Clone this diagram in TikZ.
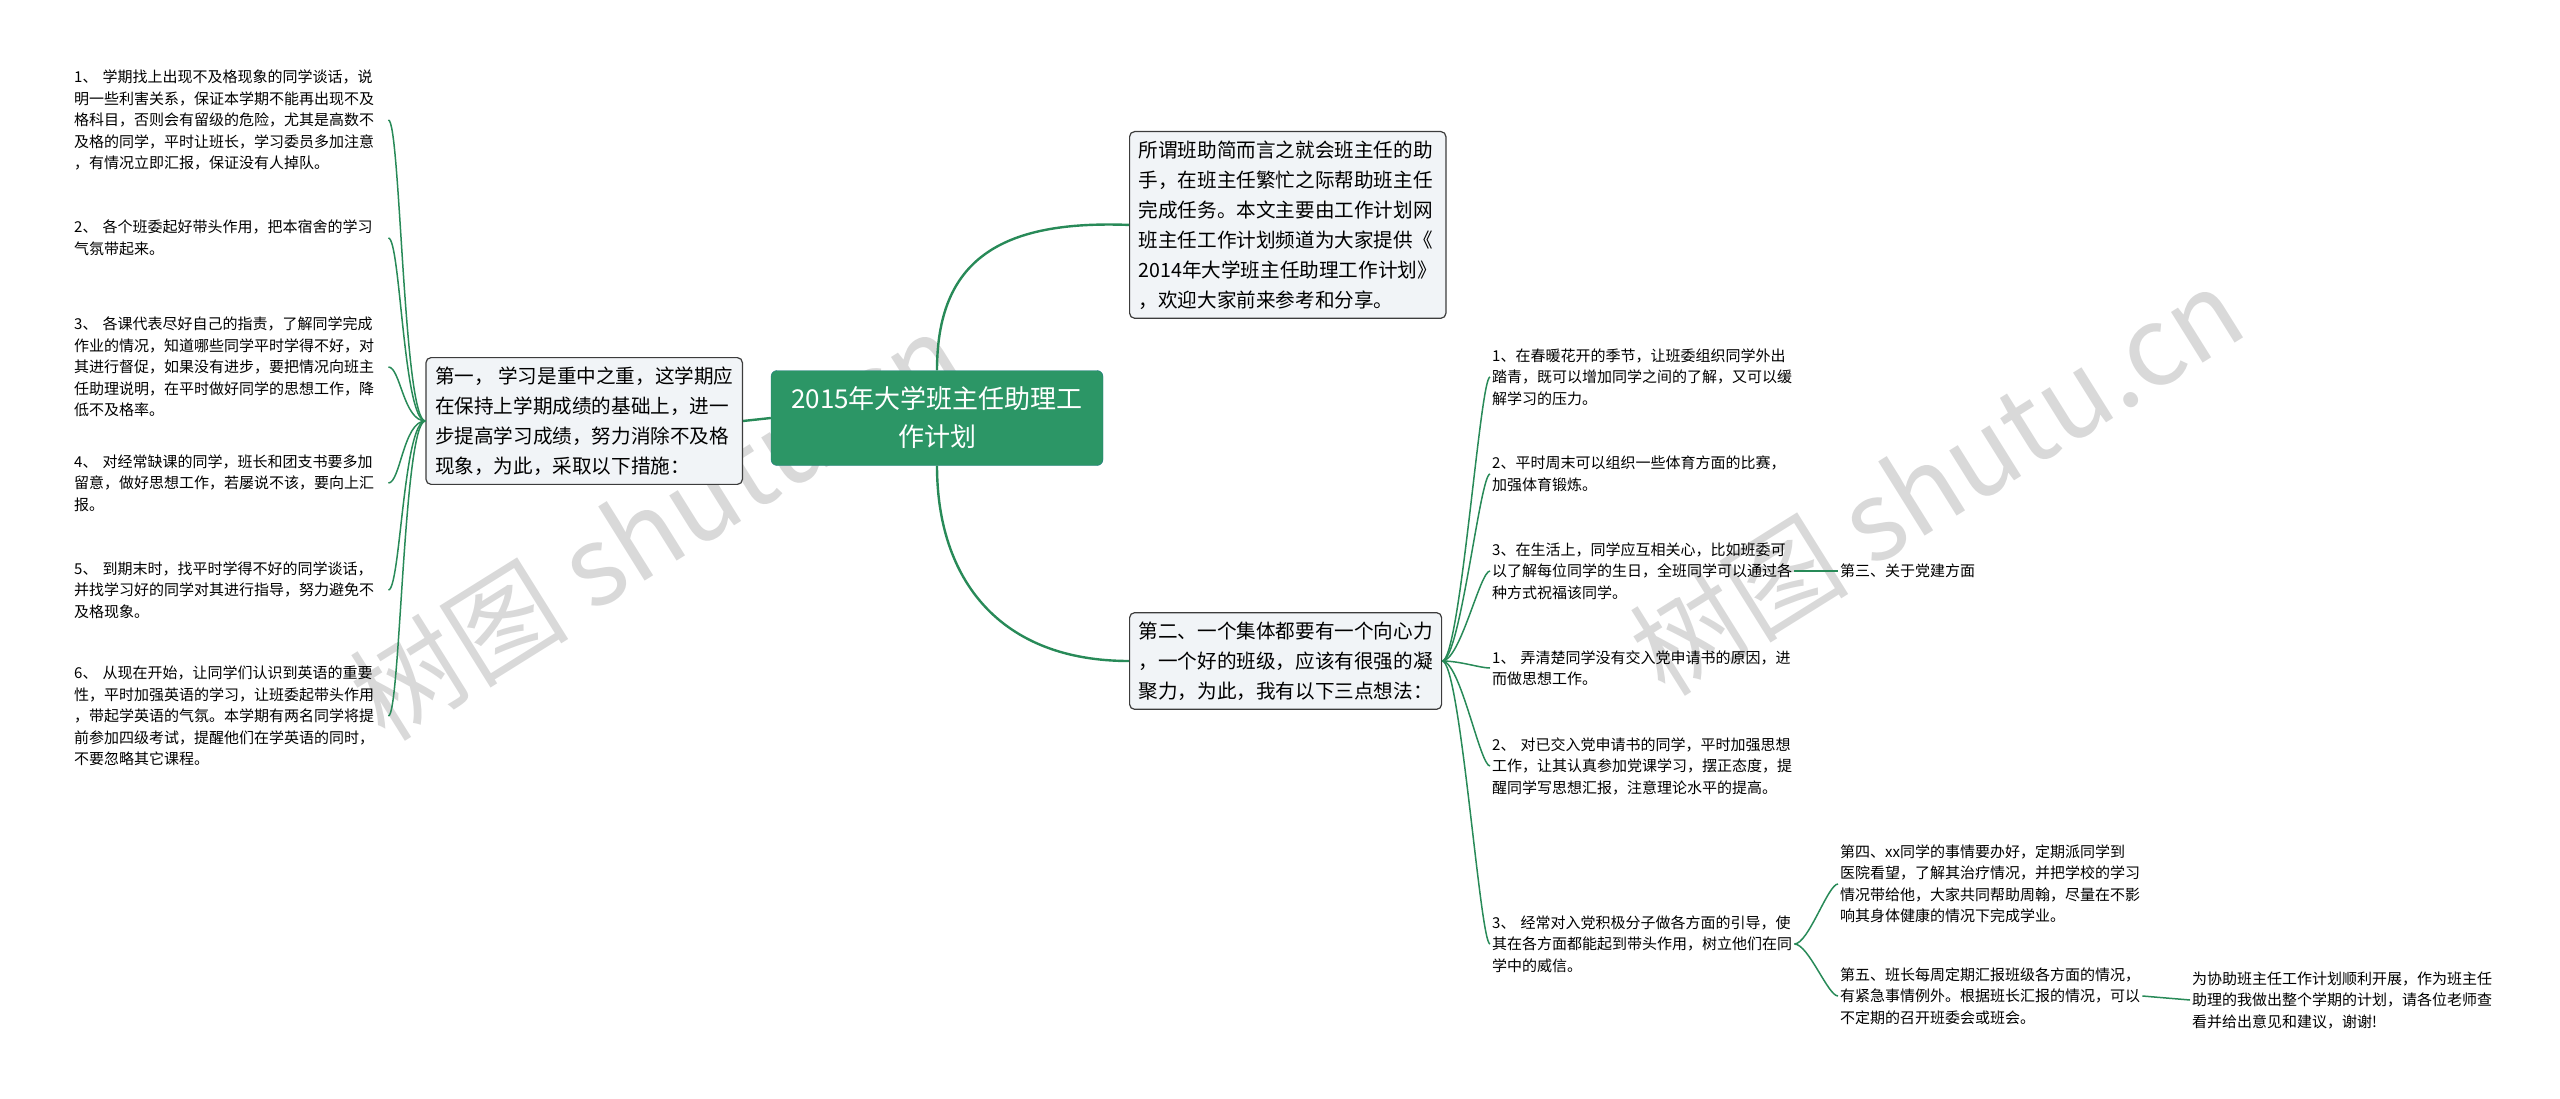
\documentclass[tikz,border=0pt]{standalone}
\usepackage{fontspec}
\setmainfont{Noto Sans CJK SC}
\definecolor{linkgreen}{RGB}{40,138,88}
\definecolor{rootgreen}{RGB}{44,150,102}
\definecolor{boxfill}{RGB}{241,244,247}
\definecolor{boxline}{RGB}{60,60,60}
\tikzset{
  leaf/.style={anchor=west, align=left, inner sep=2pt, text width=#1,
    font=\fontsize{15}{21.5}\selectfont},
  leaf/.default=312pt,
  topic/.style={draw=boxline, line width=1.2pt, fill=boxfill, rounded corners=5pt,
    align=left, inner sep=9pt, font=\fontsize{19.6}{30}\selectfont},
  root/.style={draw=rootgreen!80!blue, fill=rootgreen, rounded corners=6pt, text=white,
    align=center, minimum width=332pt, minimum height=95pt,
    font=\fontsize{26}{38}\selectfont},
  link/.style={draw=linkgreen, line width=2.4pt},
  thin link/.style={draw=linkgreen, line width=1.5pt},
  watermark/.style={text=black!15, font=\fontsize{110}{110}\selectfont, rotate=32}
}
\begin{document}
\begin{tikzpicture}[x=1pt,y=-1pt]
\useasboundingbox (0,0) rectangle (2560,1099);

% watermarks
\node[watermark] (w1) at (656,525) {树图 shutu.cn};
\node[watermark] (w2) at (1936,480) {树图 shutu.cn};

\node[root] (r) at (937,418) {2015年大学班主任助理工\\作计划};

\node[topic, anchor=north west] (t) at (1129,131) {所谓班助简而言之就会班主任的助\\手，在班主任繁忙之际帮助班主任\\完成任务。本文主要由工作计划网\\班主任工作计划频道为大家提供《\\2014年大学班主任助理工作计划》\\，欢迎大家前来参考和分享。};
\node[topic, anchor=east] (one) at (743,421) {第一， 学习是重中之重，这学期应\\在保持上学期成绩的基础上，进一\\步提高学习成绩，努力消除不及格\\现象，为此，采取以下措施：};
\node[topic, anchor=west] (two) at (1129,661) {第二、一个集体都要有一个向心力\\，一个好的班级，应该有很强的凝\\聚力，为此，我有以下三点想法：};

\draw[link] (r.north) .. controls (937,260) and (1000,220) .. (t.west);
\draw[link] (r.south) .. controls (937,580) and (1000,661) .. (two.west);
\draw[link] (r.west) -- (one.east);

% left leaves
\node[leaf] (a1) at (72,120) {1、 学期找上出现不及格现象的同学谈话，说\\明一些利害关系，保证本学期不能再出现不及\\格科目，否则会有留级的危险，尤其是高数不\\及格的同学，平时让班长，学习委员多加注意\\，有情况立即汇报，保证没有人掉队。};
\node[leaf] (a2) at (72,238) {2、 各个班委起好带头作用，把本宿舍的学习\\气氛带起来。};
\node[leaf] (a3) at (72,367) {3、 各课代表尽好自己的指责，了解同学完成\\作业的情况，知道哪些同学平时学得不好，对\\其进行督促，如果没有进步，要把情况向班主\\任助理说明，在平时做好同学的思想工作，降\\低不及格率。};
\node[leaf] (a4) at (72,483) {4、 对经常缺课的同学，班长和团支书要多加\\留意，做好思想工作，若屡说不该，要向上汇\\报。};
\node[leaf] (a5) at (72,590) {5、 到期末时，找平时学得不好的同学谈话，\\并找学习好的同学对其进行指导，努力避免不\\及格现象。};
\node[leaf] (a6) at (72,716) {6、 从现在开始，让同学们认识到英语的重要\\性，平时加强英语的学习，让班委起带头作用\\，带起学英语的气氛。本学期有两名同学将提\\前参加四级考试，提醒他们在学英语的同时，\\不要忽略其它课程。};
\foreach \n in {a1,a2,a3,a4,a5,a6}
  \draw[thin link] (one.west) .. controls +(-22,0) and +(12,0) .. (\n.east);

% right leaves
\node[leaf=300pt] (b1) at (1490,377) {1、在春暖花开的季节，让班委组织同学外出\\踏青，既可以增加同学之间的了解，又可以缓\\解学习的压力。};
\node[leaf=300pt] (b2) at (1490,474) {2、平时周末可以组织一些体育方面的比赛，\\加强体育锻炼。};
\node[leaf=300pt] (b3) at (1490,571) {3、在生活上，同学应互相关心，比如班委可\\以了解每位同学的生日，全班同学可以通过各\\种方式祝福该同学。};
\node[leaf=300pt] (b4) at (1490,668) {1、 弄清楚同学没有交入党申请书的原因，进\\而做思想工作。};
\node[leaf=300pt] (b5) at (1490,766) {2、 对已交入党申请书的同学，平时加强思想\\工作，让其认真参加党课学习，摆正态度，提\\醒同学写思想汇报，注意理论水平的提高。};
\node[leaf=300pt] (b6) at (1490,944) {3、 经常对入党积极分子做各方面的引导，使\\其在各方面都能起到带头作用，树立他们在同\\学中的威信。};
\foreach \n in {b1,b2,b3,b4,b5,b6}
  \draw[thin link] (two.east) .. controls +(18,0) and +(-10,0) .. (\n.west);

\node[leaf=200pt] (c3) at (1838,571) {第三、关于党建方面};
\draw[thin link] (b3.east) -- (c3.west);

\node[leaf=300pt] (d4) at (1838,884) {第四、xx同学的事情要办好，定期派同学到\\医院看望，了解其治疗情况，并把学校的学习\\情况带给他，大家共同帮助周翰，尽量在不影\\响其身体健康的情况下完成学业。};
\node[leaf=300pt] (d5) at (1838,996) {第五、班长每周定期汇报班级各方面的情况，\\有紧急事情例外。根据班长汇报的情况，可以\\不定期的召开班委会或班会。};
\foreach \n in {d4,d5}
  \draw[thin link] (b6.east) .. controls +(14,0) and +(-10,0) .. (\n.west);

\node[leaf=310pt] (e5) at (2190,1000) {为协助班主任工作计划顺利开展，作为班主任\\助理的我做出整个学期的计划，请各位老师查\\看并给出意见和建议，谢谢!};
\draw[thin link] (d5.east) -- (e5.west);
\end{tikzpicture}
\end{document}
